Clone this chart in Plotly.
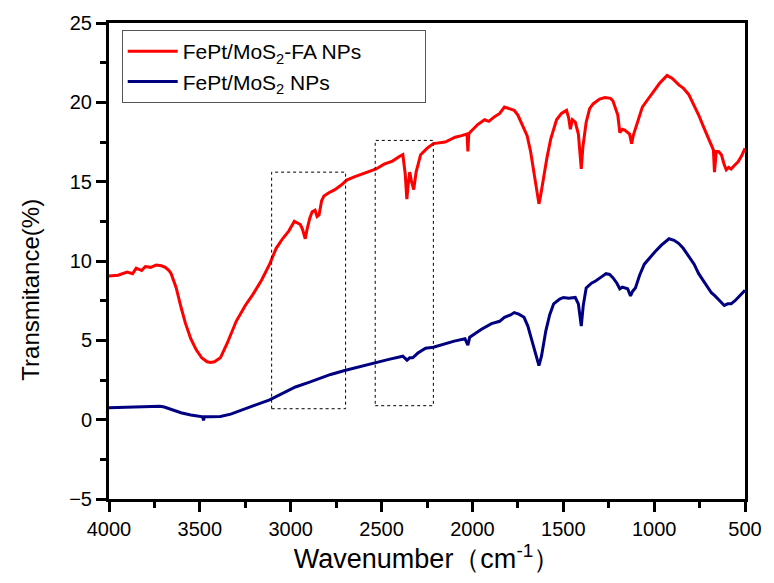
import plotly.graph_objects as go

red_wn = [4000, 3950, 3900, 3870, 3850, 3820, 3800, 3770, 3740, 3712, 3690, 3670, 3658, 3630, 3604,
          3580, 3550, 3520, 3490, 3460, 3441, 3420, 3387, 3350, 3300, 3250, 3208, 3160, 3116, 3080,
          3045, 3010, 2980, 2960, 2947, 2935, 2920, 2910, 2895, 2882, 2866, 2855, 2844, 2830, 2817,
          2790, 2757, 2720, 2692, 2650, 2600, 2573, 2530, 2486, 2440, 2400, 2383, 2370, 2361, 2352,
          2345, 2335, 2323, 2310, 2285, 2250, 2215, 2150, 2095, 2060, 2030, 2025, 2020, 2014, 1971,
          1933, 1910, 1878, 1850, 1824, 1800, 1770, 1750, 1732, 1699, 1680, 1661, 1645, 1634, 1625,
          1607, 1590, 1569, 1537, 1510, 1482, 1470, 1461, 1450, 1434, 1417, 1408, 1401, 1392, 1374,
          1355, 1336, 1300, 1271, 1240, 1227, 1200, 1189, 1175, 1162, 1135, 1124, 1115, 1103, 1080,
          1065, 1040, 1010, 970, 929, 900, 864, 840, 810, 780, 755, 730, 701, 685, 674, 668, 662,
          658, 645, 630, 615, 603, 590, 576, 560, 538, 520, 506, 500]
red_t = [9.05, 9.1, 9.3, 9.2, 9.55, 9.4, 9.65, 9.6, 9.75, 9.7, 9.6, 9.4, 9.2, 8.3, 7.1,
         6.1, 5.1, 4.4, 3.9, 3.65, 3.6, 3.65, 3.9, 4.8, 6.2, 7.2, 7.9, 8.8, 9.8, 10.8,
         11.4, 11.9, 12.5, 12.4, 12.3, 12.0, 11.4, 12.0, 12.7, 13.1, 13.2, 12.8, 12.9, 13.8, 14.1,
         14.3, 14.5, 14.8, 15.1, 15.3, 15.5, 15.6, 15.8, 16.1, 16.3, 16.6, 16.7, 15.5, 13.9, 15.0,
         15.6, 15.0, 14.5, 15.6, 16.7, 17.1, 17.4, 17.5, 17.8, 17.9, 18.0, 16.9, 18.0, 18.1, 18.6,
         18.9, 18.8, 19.1, 19.3, 19.7, 19.6, 19.5, 19.2, 18.75, 17.9, 16.9, 15.6, 14.3, 13.6, 14.1,
         15.4, 16.5, 17.7, 18.9, 19.3, 19.5, 19.0, 18.3, 18.9, 18.75, 18.0, 16.8, 15.8, 17.2, 18.75,
         19.6, 19.9, 20.2, 20.3, 20.25, 20.1, 19.2, 18.1, 18.3, 18.25, 18.0, 17.4, 17.9, 18.3, 19.2,
         19.7, 20.1, 20.6, 21.2, 21.7, 21.5, 21.1, 20.9, 20.5, 19.8, 19.2, 18.5, 17.7, 17.3, 17.0, 15.6, 16.8,
         16.9, 16.9, 16.7, 16.1, 15.75, 15.9, 15.8, 16.0, 16.25, 16.6, 17.0, 17.1]

blue_wn = [4000, 3900, 3800, 3750, 3720, 3696, 3650, 3604, 3550, 3500, 3485, 3480, 3475, 3440, 3387,
           3330, 3262, 3200, 3116, 3050, 2974, 2900, 2844, 2780, 2703, 2620, 2540, 2460, 2383, 2370,
           2360, 2345, 2329, 2300, 2258, 2215, 2150, 2100, 2041, 2025, 2015, 2003, 1950, 1895, 1850,
           1824, 1790, 1770, 1745, 1716, 1695, 1678, 1655, 1634, 1620, 1596, 1575, 1553, 1520, 1499,
           1470, 1434, 1417, 1408, 1401, 1390, 1374, 1345, 1320, 1290, 1265, 1245, 1227, 1205, 1189,
           1175, 1162, 1146, 1130, 1118, 1103, 1080, 1054, 1025, 994, 960, 918, 890, 864, 840,
           810, 780, 755, 720, 685, 665, 647, 630, 614, 595, 576, 555, 538, 520, 506, 500]
blue_t = [0.75, 0.78, 0.85, 0.87, 0.85, 0.8, 0.6, 0.44, 0.3, 0.2, 0.18, -0.05, 0.18, 0.18, 0.2,
          0.35, 0.62, 0.9, 1.25, 1.65, 2.06, 2.35, 2.6, 2.85, 3.1, 3.35, 3.56, 3.8, 4.0, 3.85,
          3.75, 3.9, 3.9, 4.2, 4.5, 4.56, 4.8, 4.95, 5.1, 4.7, 5.2, 5.3, 5.7, 6.05, 6.2,
          6.45, 6.6, 6.75, 6.65, 6.45, 5.9, 5.2, 4.2, 3.4, 4.0, 5.6, 6.6, 7.3, 7.6, 7.7,
          7.65, 7.7, 7.3, 6.6, 5.9, 7.2, 8.3, 8.6, 8.75, 9.0, 9.2, 9.15, 8.95, 8.6, 8.25,
          8.35, 8.3, 8.25, 7.8, 8.1, 8.3, 9.1, 9.8, 10.2, 10.6, 11.0, 11.4, 11.3, 11.1, 10.8,
          10.3, 9.8, 9.2, 8.6, 8.0, 7.8, 7.6, 7.4, 7.2, 7.3, 7.3, 7.5, 7.7, 7.9, 8.1, 8.15]

series_names = ["FePt/MoS<sub>2</sub>-FA NPs", "FePt/MoS<sub>2</sub> NPs"]
x_title = "Wavenumber（cm<sup>-1</sup>）"
y_title = "Transmitance(%)"
x_ticks = [4000, 3500, 3000, 2500, 2000, 1500, 1000, 500]
y_ticks = [-5, 0, 5, 10, 15, 20, 25]
# highlighted regions (wavenumber range, transmittance range)
box1 = dict(x0=3105, x1=2698, y0=0.69, y1=15.6)
box2 = dict(x0=2535, x1=2215, y0=0.88, y1=17.6)

FONT = "Arial, Liberation Sans, sans-serif"
PAD = "\u00a0" * 10  # widens the legend box like the original

fig = go.Figure()
fig.add_trace(go.Scatter(x=red_wn, y=red_t, mode="lines", name=series_names[0] + PAD,
                         line=dict(color="#FF0000", width=3)))
fig.add_trace(go.Scatter(x=blue_wn, y=blue_t, mode="lines", name=series_names[1] + PAD,
                         line=dict(color="#000080", width=3)))

for b in (box1, box2):
    fig.add_shape(type="rect", xref="x", yref="y", x0=b["x0"], x1=b["x1"], y0=b["y0"], y1=b["y1"],
                  line=dict(color="black", width=1, dash="dot"))

axis_common = dict(showline=True, linecolor="black", linewidth=3, mirror=True,
                   ticks="outside", ticklen=10, tickwidth=2.5, tickcolor="black",
                   showgrid=False, zeroline=False,
                   tickfont=dict(family=FONT, size=20, color="black"))

fig.update_xaxes(range=[4000, 500], tickvals=x_ticks,
                 minor=dict(ticks="outside", ticklen=6, tickwidth=2.5, tickcolor="black", dtick=250),
                 title=dict(text=x_title, font=dict(family=FONT, size=27, color="black"),
                            standoff=2),
                 **axis_common)
fig.update_yaxes(range=[-5, 25], tickvals=y_ticks,
                 minor=dict(ticks="outside", ticklen=6, tickwidth=2.5, tickcolor="black", dtick=2.5),
                 **axis_common)

fig.add_annotation(text=y_title, xref="paper", yref="paper", x=-0.124, y=0.44,
                   xanchor="center", yanchor="middle", textangle=-90, showarrow=False,
                   font=dict(family=FONT, size=24, color="black"))

fig.update_layout(
    width=774, height=583,
    margin=dict(l=109, r=19, t=21, b=84),
    plot_bgcolor="white", paper_bgcolor="white",
    showlegend=True,
    legend=dict(x=0.02, y=0.985, xanchor="left", yanchor="top",
                bgcolor="white", bordercolor="#555555", borderwidth=1,
                font=dict(family=FONT, size=21, color="black"),
                itemwidth=50, tracegroupgap=0),
)

fig.write_html("out.html")
